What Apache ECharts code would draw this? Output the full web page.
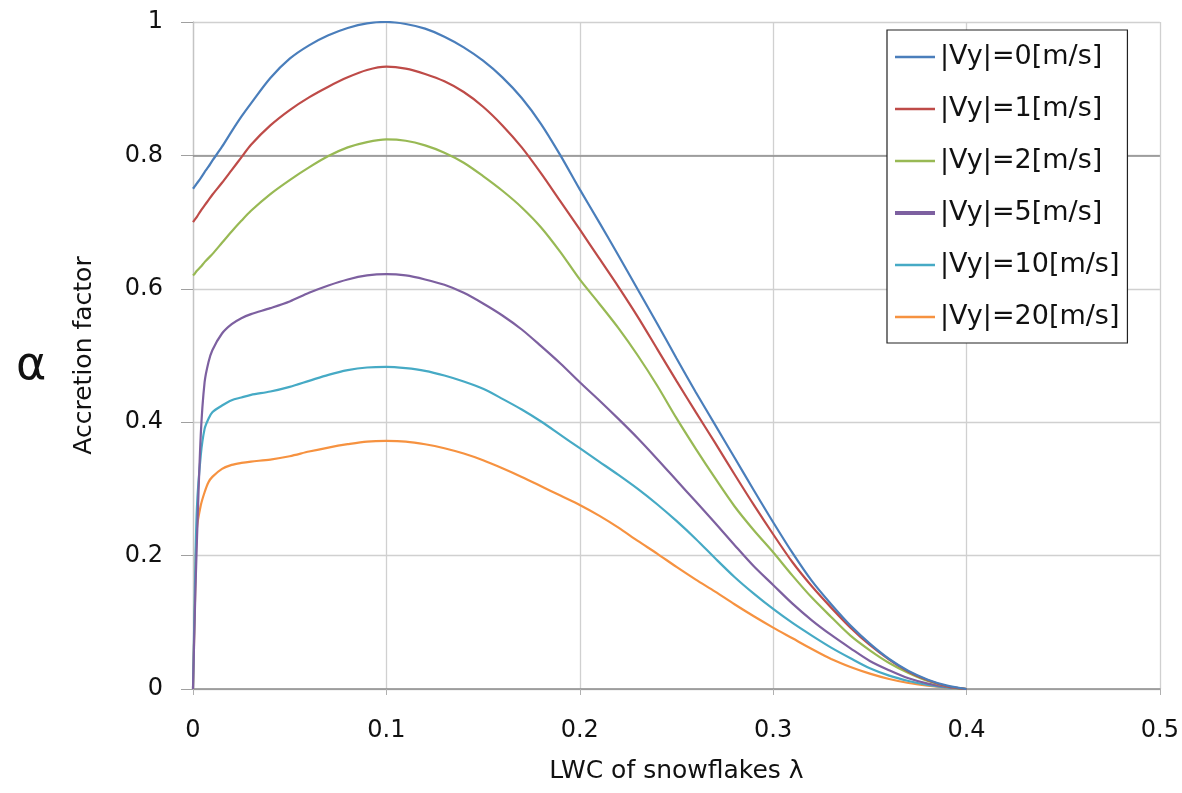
<!DOCTYPE html>
<html>
<head>
<meta charset="utf-8">
<script src="https://cdn.jsdelivr.net/npm/echarts@6/dist/echarts.min.js"></script>
<style>
html,body{margin:0;padding:0;background:#fff;}
#chart{width:1182px;height:793px;}
</style>
</head>
<body>
<div id="chart"></div>
<script>
// LWC of snowflakes (lambda)
const xs = [0, 0.001, 0.002, 0.004, 0.006, 0.008, 0.01, 0.015, 0.02, 0.025, 0.03,
  0.04, 0.05, 0.06, 0.07, 0.08, 0.09, 0.1,
  0.11, 0.12, 0.13, 0.14, 0.15, 0.16, 0.17, 0.18, 0.19, 0.2,
  0.21, 0.22, 0.23, 0.24, 0.25, 0.26, 0.27, 0.28, 0.29, 0.3,
  0.31, 0.32, 0.33, 0.34, 0.35, 0.36, 0.37, 0.38, 0.39, 0.4];

const vy0 = [0.75, 0.754, 0.758, 0.766, 0.775, 0.783, 0.792, 0.813, 0.836, 0.858, 0.878,
  0.916, 0.945, 0.965, 0.980, 0.991, 0.998, 1.0,
  0.997, 0.990, 0.978, 0.962, 0.942, 0.917, 0.886, 0.847, 0.800, 0.749,
  0.700, 0.650, 0.599, 0.548, 0.496, 0.445, 0.396, 0.347, 0.298, 0.250,
  0.204, 0.162, 0.127, 0.095, 0.068, 0.045, 0.027, 0.014, 0.005, 0];

const vy1 = [0.70, 0.704, 0.708, 0.717, 0.725, 0.733, 0.741, 0.759, 0.778, 0.797, 0.816,
  0.845, 0.868, 0.887, 0.903, 0.917, 0.928, 0.933,
  0.930, 0.922, 0.911, 0.895, 0.873, 0.845, 0.812, 0.773, 0.731, 0.689,
  0.646, 0.603, 0.558, 0.510, 0.462, 0.415, 0.369, 0.322, 0.276, 0.232,
  0.190, 0.154, 0.122, 0.092, 0.066, 0.044, 0.026, 0.013, 0.004, 0];

const vy2 = [0.62, 0.623, 0.627, 0.633, 0.640, 0.646, 0.652, 0.669, 0.686, 0.702, 0.717,
  0.742, 0.763, 0.782, 0.799, 0.812, 0.820, 0.824,
  0.822, 0.815, 0.804, 0.789, 0.769, 0.747, 0.722, 0.692, 0.655, 0.614,
  0.578, 0.541, 0.500, 0.455, 0.406, 0.360, 0.316, 0.274, 0.238, 0.205,
  0.170, 0.137, 0.108, 0.080, 0.058, 0.039, 0.024, 0.012, 0.004, 0];

const vy5 = [0, 0.12, 0.22, 0.38, 0.46, 0.49, 0.508, 0.533, 0.547, 0.556, 0.562,
  0.571, 0.581, 0.594, 0.605, 0.614, 0.620, 0.622,
  0.620, 0.614, 0.606, 0.594, 0.578, 0.560, 0.539, 0.514, 0.488, 0.460,
  0.433, 0.405, 0.376, 0.345, 0.313, 0.281, 0.249, 0.216, 0.184, 0.156,
  0.128, 0.103, 0.081, 0.061, 0.042, 0.028, 0.016, 0.008, 0.003, 0];

const vy10 = [0, 0.15, 0.27, 0.35, 0.39, 0.405, 0.415, 0.425, 0.433, 0.437, 0.441,
  0.446, 0.453, 0.462, 0.471, 0.478, 0.482, 0.483,
  0.481, 0.477, 0.470, 0.461, 0.450, 0.435, 0.419, 0.401, 0.381, 0.361,
  0.341, 0.321, 0.300, 0.277, 0.252, 0.225, 0.196, 0.168, 0.143, 0.120,
  0.099, 0.080, 0.062, 0.046, 0.031, 0.020, 0.012, 0.006, 0.002, 0];

const vy20 = [0, 0.13, 0.24, 0.275, 0.295, 0.31, 0.318, 0.330, 0.336, 0.339, 0.341,
  0.344, 0.349, 0.356, 0.362, 0.367, 0.371, 0.372,
  0.371, 0.367, 0.361, 0.353, 0.343, 0.331, 0.318, 0.304, 0.290, 0.276,
  0.260, 0.242, 0.222, 0.203, 0.183, 0.164, 0.146, 0.127, 0.109, 0.092,
  0.076, 0.060, 0.045, 0.033, 0.023, 0.015, 0.009, 0.005, 0.002, 0];

const seriesNames = ['|Vy|=0[m/s]', '|Vy|=1[m/s]', '|Vy|=2[m/s]', '|Vy|=5[m/s]', '|Vy|=10[m/s]', '|Vy|=20[m/s]'];
const seriesValues = [vy0, vy1, vy2, vy5, vy10, vy20];
const seriesColors = ['#4A7EBB', '#BE4B48', '#98B954', '#7D60A0', '#46AAC5', '#F69240'];

const xTitle = 'LWC of snowflakes λ';
const yTitle = 'Accretion factor';
const sideSymbol = 'α';

const chart = echarts.init(document.getElementById('chart'), null, {renderer: 'canvas'});
const FONT = 'DejaVu Sans';

const series = seriesNames.map((name, i) => ({
  name: name,
  type: 'line',
  data: xs.map((x, j) => [x, seriesValues[i][j]]),
  symbol: 'none',
  showSymbol: false,
  smooth: 0.3,
  lineStyle: {color: seriesColors[i], width: 2.2},
  itemStyle: {color: seriesColors[i]},
  z: 10 - i,
  markLine: i === 0 ? {
    silent: true,
    symbol: ['none', 'none'],
    label: {show: false},
    lineStyle: {color: '#8c8c8c', width: 1.5, type: 'solid'},
    data: [{yAxis: 0.8}],
    z: 1
  } : undefined
}));

chart.setOption({
  backgroundColor: '#ffffff',
  animation: false,
  grid: {left: 193, right: 22, top: 22, bottom: 104, containLabel: false},
  xAxis: {
    type: 'value',
    min: 0, max: 0.5, interval: 0.1,
    name: xTitle,
    nameLocation: 'middle',
    nameGap: 70,
    nameTextStyle: {fontFamily: FONT, fontSize: 25, color: '#111'},
    axisLine: {show: true, lineStyle: {color: '#8c8c8c', width: 1.5}},
    axisTick: {show: true, length: 6, lineStyle: {color: '#b0b0b0'}},
    axisLabel: {fontFamily: FONT, fontSize: 24, color: '#111', margin: 30},
    splitLine: {show: true, lineStyle: {color: '#d0d0d0', width: 1.3}}
  },
  yAxis: {
    type: 'value',
    min: 0, max: 1, interval: 0.2,
    name: yTitle,
    nameLocation: 'middle',
    nameGap: 96,
    nameTextStyle: {fontFamily: FONT, fontSize: 25, color: '#111'},
    axisLine: {show: true, lineStyle: {color: '#c4c4c4', width: 1.3}},
    axisTick: {show: true, length: 12, lineStyle: {color: '#a0a0a0'}},
    axisLabel: {fontFamily: FONT, fontSize: 24, color: '#111', margin: 30},
    splitLine: {show: true, lineStyle: {color: '#d0d0d0', width: 1.3}}
  },
  legend: {
    orient: 'vertical',
    left: 887,
    top: 30,
    padding: [12, 8, 11, 8],
    itemGap: 22,
    itemWidth: 40,
    itemHeight: 14,
    borderColor: '#222',
    borderWidth: 1.2,
    borderRadius: 0,
    backgroundColor: '#ffffff',
    textStyle: {fontFamily: FONT, fontSize: 27, color: '#111', lineHeight: 30},
    data: seriesNames.map((n, i) => ({
      name: n,
      icon: i === 3 ? 'path://M0,0 L40,0 L40,4 L0,4 Z' : 'path://M0,0 L40,0 L40,2.4 L0,2.4 Z',
      itemStyle: {color: seriesColors[i], borderWidth: 0}
    }))
  },
  graphic: [{
    type: 'text',
    left: 16,
    top: 344,
    style: {text: sideSymbol, font: '46px "DejaVu Sans"', fill: '#111'}
  }],
  series: series
});
</script>
</body>
</html>
